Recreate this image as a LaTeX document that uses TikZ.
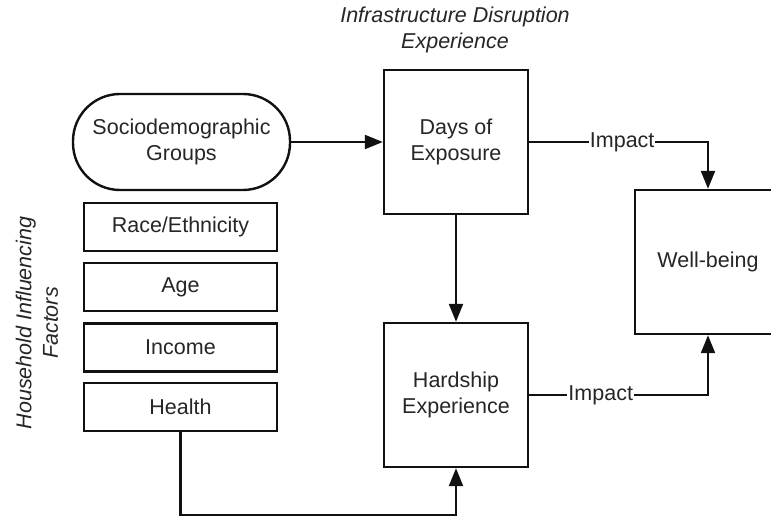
\documentclass[tikz,border=0pt]{standalone}
\usepackage{fontspec}
\setmainfont{Liberation Sans}
\usetikzlibrary{arrows.meta}
\definecolor{ink}{HTML}{111111}
\definecolor{txt}{HTML}{262626}
\begin{document}
\begin{tikzpicture}[x=1pt,y=-1pt,
  every node/.style={text=txt,font=\fontsize{21.5}{26.5}\selectfont,align=center},
  box/.style={draw=ink,line width=2.4pt,inner sep=0pt},
  factor/.style={box,minimum width=193pt,minimum height=48pt},
  conn/.style={draw=ink,line width=2.2pt,-{Triangle[length=18pt,width=14pt]}},
  lbl/.style={fill=white,inner sep=1pt}]
\clip (0,0) rectangle (771,518);
\fill[white] (0,0) rectangle (771,518);

% titles
\node (title) at (455,30) {\itshape Infrastructure Disruption\\\itshape Experience};
\node[rotate=90] (hif) at (37,323) {\itshape Household Influencing\\\itshape Factors};

% left column
\node[box,rounded corners=47pt,minimum width=217pt,minimum height=96pt] (socio) at (181.5,142) {Sociodemographic\\Groups};
\node[factor] (race) at (180.5,227) {Race/Ethnicity};
\node[factor] (age) at (180.5,287) {Age};
\node[factor] (income) at (180.5,347.5) {Income};
\node[factor] (health) at (180.5,407) {Health};

% middle column
\node[box,minimum width=144pt,minimum height=144pt] (days) at (456,142) {Days of\\Exposure};
\node[box,minimum width=144pt,minimum height=144pt] (hard) at (456,395) {Hardship\\Experience};

% outcome
\node[box,minimum width=146pt,minimum height=144pt] (well) at (708,262) {Well-being};

% connectors
\draw[conn] (socio.east) -- (days.west);
\draw[conn] (days.south) -- (hard.north);
\draw[conn] (days.east) -| node[lbl,pos=0.26] {Impact} (well.north);
\draw[conn] (hard.east) -| node[lbl,pos=0.2] {Impact} (well.south);
\coordinate (bend) at (182,515);
\draw[conn] (health.south) -- (health.south |- bend) -| (hard.south);
\end{tikzpicture}
\end{document}
